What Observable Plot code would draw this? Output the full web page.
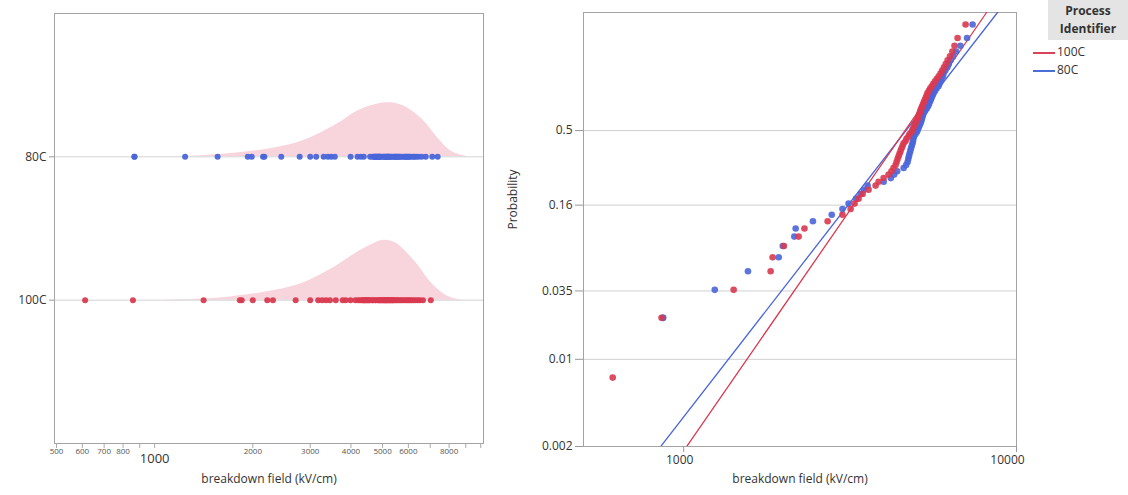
<!DOCTYPE html>
<html><head><meta charset="utf-8">
<script src="https://cdn.jsdelivr.net/npm/d3@7"></script>
<script src="https://cdn.jsdelivr.net/npm/@observablehq/plot@0.6"></script>
<style>
body{margin:0;background:#fff;font-family:"Open Sans",sans-serif;}
#wrap{position:relative;width:1128px;height:495px;overflow:hidden;}
#left{position:absolute;left:0;top:0;}
#right{position:absolute;left:500px;top:0;}
#legend{position:absolute;left:1030px;top:0;width:98px;font-size:12px;color:#333;}
#legend .hdr{margin-left:18px;background:#e4e4e4;height:40px;font-weight:bold;text-align:center;line-height:18px;padding-top:2px;box-sizing:border-box;color:#333;}
#legend .item{height:18px;line-height:18px;position:relative;padding-left:27px;}
#legend .sw{position:absolute;left:3px;top:9px;width:22px;height:2px;}
</style></head>
<body>
<div id="wrap"><div id="left"></div><div id="right"></div>
<div id="legend">
<div class="hdr">Process<br>Identifier</div>
<div class="item" style="margin-top:3px"><span class="sw" style="background:#d8435a"></span>100C</div>
<div class="item"><span class="sw" style="background:#4b6fd6"></span>80C</div>
</div></div>
<script>
// ---------------- data ----------------
const groups = ["80C", "100C"];
const groupColors = ["#4a66d9", "#d93a50"];
const field80C = [867, 867, 1240, 1560, 1930, 1985, 2150, 2170, 2445, 2785,
  3000, 3130, 3300, 3400, 3480, 3570, 3990, 4190, 4290, 4380,
  4580, 4660, 4707, 4730, 4750, 4772, 4798, 4820, 4845, 4872,
  4885, 4900, 4923, 4974, 5025, 5053, 5088, 5120, 5152, 5177,
  5198, 5220, 5242, 5281, 5325, 5380, 5425, 5460, 5490, 5528,
  5562, 5601, 5632, 5688, 5751, 5827, 5867, 5908, 5953, 6007,
  6036, 6112, 6202, 6262, 6337, 6443, 6588, 6783, 7103, 7379];
const field100C = [612, 858, 1413, 1825, 1850, 2000, 2215, 2306, 2707, 3000,
  3174, 3263, 3354, 3449, 3594, 3773, 3852, 3987, 4127, 4210,
  4270, 4332, 4362, 4392, 4423, 4453, 4485, 4516, 4548, 4579,
  4642, 4675, 4739, 4772, 4838, 4872, 4906, 4940, 4974, 5008,
  5043, 5078, 5099, 5124, 5148, 5180, 5210, 5242, 5274, 5307,
  5340, 5374, 5403, 5455, 5504, 5562, 5624, 5692, 5763, 5839,
  5916, 5982, 6053, 6129, 6210, 6311, 6416, 6511, 6652, 7030];
// shaded density outlines (left panel), relative heights
const densField80C = [1202, 1384, 1711, 2269, 2865, 3641, 4195, 4831, 5297, 5805, 6686, 7382, 8091, 8870, 9318];
const densHeight80C = [0, 0.02, 0.06, 0.15, 0.30, 0.61, 0.85, 0.98, 1.0, 0.94, 0.67, 0.35, 0.11, 0.02, 0];
const densField100C = [1081, 1384, 1711, 2190, 2805, 3467, 3994, 4598, 5041, 5486, 6318, 7025, 7808, 8381, 8807];
const densHeight100C = [0, 0.02, 0.06, 0.15, 0.30, 0.57, 0.81, 1.02, 1.11, 1.06, 0.70, 0.33, 0.09, 0.02, 0];
// fitted lines (right panel): endpoints
const fitField80C = [853, 8770];
const fitProb80C = [0.002, 0.9979];
const fitField100C = [1021, 8130];
const fitProb100C = [0.002, 0.9979];
// axes
const leftTickMarks = [500, 600, 700, 800, 900, 1000, 2000, 3000, 4000, 5000, 6000, 7000, 8000, 9000, 10000];
const leftSmallLabels = [500, 600, 700, 800, 2000, 3000, 4000, 5000, 6000, 8000];
const leftBigLabels = [1000];
const probTicks = [0.002, 0.01, 0.035, 0.16, 0.5];
const probTickLabels = ["0.002", "0.01", "0.035", "0.16", "0.5"];
const rightXTicks = [1000, 10000];
const probDomain = [0.002, 0.9979];

// ---------------- derived tables ----------------
const FONT = '"Open Sans", sans-serif';
const ty = p => Math.log(-Math.log(1 - p));
const series = [field80C, field100C];
function plottingPositions(vals, g) {
  const s = vals.slice().sort((a, b) => a - b), n = s.length;
  return s.map((v, i) => {
    let j = i; while (j + 1 < n && s[j + 1] === v) j++;
    return {g, v, p: (j + 1 - 0.5) / n};
  });
}
const pts = series.map((vals, k) => plottingPositions(vals, groups[k]));
const rowOf = g => groups.length - groups.indexOf(g); // 80C on top
const densScale = 0.377;
const densRows = [[densField80C, densHeight80C], [densField100C, densHeight100C]].flatMap(([xs, hs], k) =>
  xs.map((v, i) => ({g: groups[k], v, base: rowOf(groups[k]), top: rowOf(groups[k]) + hs[i] * densScale})));
const fitRows = [[fitField80C, fitProb80C], [fitField100C, fitProb100C]].flatMap(([xs, ps], k) =>
  xs.map((v, i) => ({g: groups[k], v, p: ps[i]})));
const colorOf = g => groupColors[groups.indexOf(g)];
const probLabelMap = new Map(probTicks.map((p, i) => [ty(p), probTickLabels[i]]));

// ---------------- left panel ----------------
const left = Plot.plot({
  width: 500, height: 495, marginLeft: 54, marginRight: 17, marginTop: 13, marginBottom: 52,
  style: {fontFamily: FONT, fontSize: "12px", color: "#333", background: "transparent"},
  x: {type: "log", domain: [493, 10200]},
  y: {domain: [0, groups.length + 1]},
  marks: [
    Plot.areaY(densRows, {x: "v", y1: "base", y2: "top", z: "g", fill: "#f8d5dd", curve: "catmull-rom"}),
    Plot.ruleY(groups.map(rowOf), {stroke: "#d4d4d4"}),
    Plot.frame({stroke: "#a3a3a3"}),
    Plot.axisY(groups.map(rowOf), {tickFormat: d => groups[groups.length - d], tickSize: 5, tickPadding: 3, stroke: "#999", fill: "#333", fontSize: 12, label: null}),
    Plot.axisX(leftTickMarks, {tickSize: 5, tickFormat: () => "", stroke: "#aaa", label: null}),
    Plot.text(leftSmallLabels, {x: d => d, text: d => String(d), frameAnchor: "bottom", dy: 10, fontSize: 8, fill: "#555"}),
    Plot.text(leftBigLabels, {x: d => d, text: d => String(d), frameAnchor: "bottom", dy: 19, fontSize: 13, fill: "#333"}),
    Plot.text(["breakdown field (kV/cm)"], {frameAnchor: "bottom", dy: 39, fontSize: 12, fill: "#333"}),
    ...pts.map(rows => Plot.dot(rows, {x: "v", y: d => rowOf(d.g), r: 3, fill: d => colorOf(d.g), stroke: "none", fillOpacity: 0.95}))
  ]
});
document.getElementById("left").appendChild(left);

// ---------------- right panel ----------------
const right = Plot.plot({
  width: 530, height: 495, marginLeft: 83, marginRight: 14, marginTop: 12, marginBottom: 49,
  style: {fontFamily: FONT, fontSize: "12px", color: "#333", background: "transparent"},
  x: {type: "log", domain: [500, 10000]},
  y: {domain: probDomain.map(ty)},
  marks: [
    Plot.gridY(probTicks.map(ty), {stroke: "#d0d0d0", strokeOpacity: 1}),
    Plot.frame({stroke: "#a3a3a3"}),
    Plot.axisY(probTicks.map(ty), {tickFormat: d => probLabelMap.get(d), tickSize: 8, tickPadding: 3, stroke: "#999", fill: "#333", fontSize: 12, label: null}),
    Plot.axisX(rightXTicks, {tickSize: 6, tickFormat: () => "", stroke: "#999", label: null}),
    Plot.text([rightXTicks[0]], {x: d => d, text: d => String(d), frameAnchor: "bottom", dy: 17, dx: -4, fontSize: 12, fill: "#333"}),
    Plot.text([rightXTicks[1]], {x: d => d, text: d => String(d), frameAnchor: "bottom", dy: 17, dx: -9, fontSize: 12, fill: "#333"}),
    Plot.text(["Probability"], {frameAnchor: "left", dx: -70, rotate: -90, fontSize: 12, fill: "#333"}),
    Plot.text(["breakdown field (kV/cm)"], {frameAnchor: "bottom", dy: 36, fontSize: 12, fill: "#333"}),
    Plot.line(fitRows, {x: "v", y: d => ty(d.p), z: "g", stroke: d => colorOf(d.g), strokeWidth: 1.3, clip: true}),
    ...pts.map(rows => Plot.dot(rows, {x: "v", y: d => ty(d.p), r: 3.3, fill: d => colorOf(d.g), stroke: "none", fillOpacity: 0.9}))
  ]
});
document.getElementById("right").appendChild(right);
</script>
</body></html>
